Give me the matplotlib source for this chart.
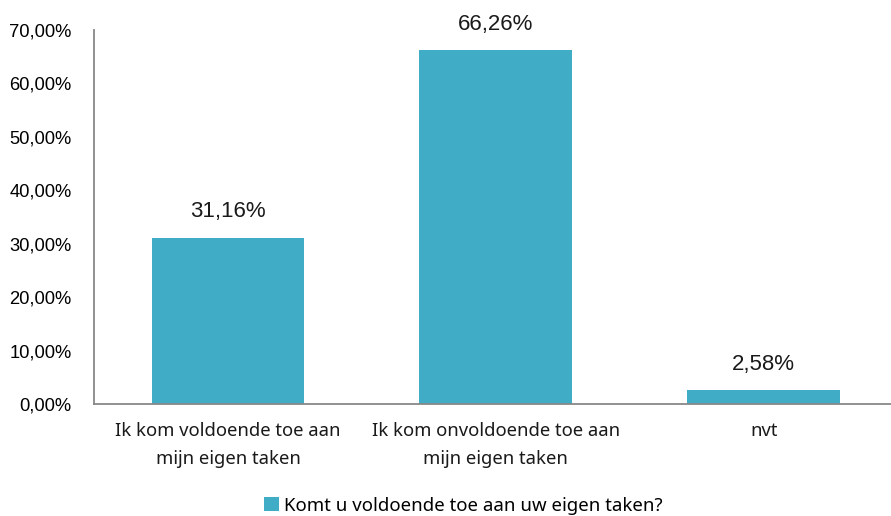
import matplotlib
matplotlib.use("Agg")
import matplotlib.pyplot as plt
from matplotlib.ticker import FuncFormatter

categories = ["Ik kom voldoende toe aan\nmijn eigen taken",
              "Ik kom onvoldoende toe aan\nmijn eigen taken",
              "nvt"]
values = [31.16, 66.26, 2.58]
series_name = "Komt u voldoende toe aan uw eigen taken?"
yticks = [0, 10, 20, 30, 40, 50, 60, 70]

color = "#40ACC6"
fig = plt.figure(figsize=(8.91, 5.16), dpi=100)
ax = fig.add_axes([0.1055, 0.217, 0.902, 0.725])

x = list(range(len(categories)))
bars = ax.bar(x, values, width=0.57, color=color, label=series_name)
ax.set_xlim(-0.5, 2.5)
ax.set_ylim(0, 70)
ax.set_yticks(yticks)
ax.yaxis.set_major_formatter(FuncFormatter(lambda v, p: f"{v:.2f}%".replace(".", ",")))
ax.set_xticks(x)
ax.set_xticklabels(categories, family="Noto Sans", fontsize=13.3, color="#1a1a1a", linespacing=1.7)
for lab in ax.get_yticklabels():
    lab.set_family("Liberation Sans")
    lab.set_fontsize(13.2)
ax.tick_params(axis="both", length=0)
ax.tick_params(axis="y", pad=16)
ax.tick_params(axis="x", pad=13)
for s in ["top", "right"]:
    ax.spines[s].set_visible(False)
for s in ["left", "bottom"]:
    ax.spines[s].set_color("#888888")
    ax.spines[s].set_linewidth(1.3)

for xi, v in zip(x, values):
    ax.annotate(f"{v:.2f}%".replace(".", ","), (xi, v), xytext=(0, 11), textcoords="offset points",
                ha="center", va="bottom", fontsize=16, family="Liberation Sans", color="#1a1a1a")

leg = fig.legend(handles=[bars], labels=[series_name], loc="lower center", bbox_to_anchor=(0.52, -0.03),
                 frameon=False, prop={"family": "Noto Sans", "size": 13.4}, handlelength=0.8,
                 handleheight=0.8, handletextpad=0.3)
fig.savefig("out.png", dpi=100)
